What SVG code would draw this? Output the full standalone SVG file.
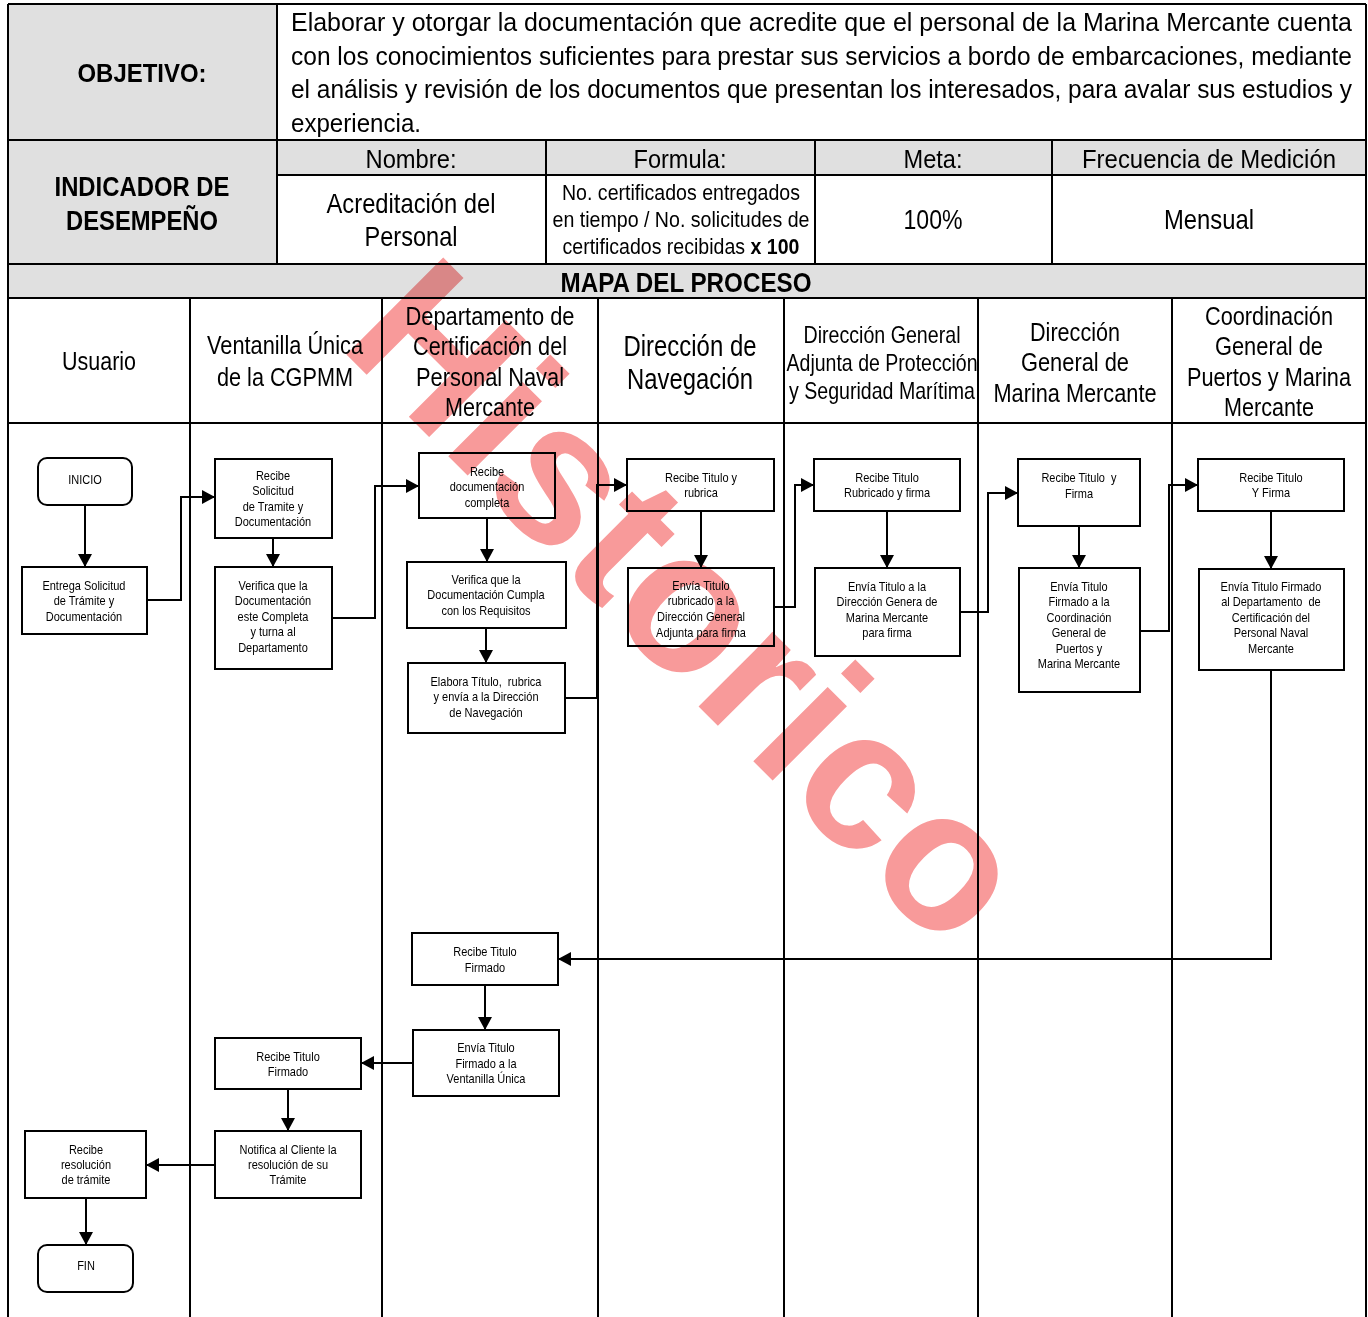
<svg xmlns="http://www.w3.org/2000/svg" width="1368" height="1317" viewBox="0 0 1368 1317">
<style>
text{font-family:'Liberation Sans Narrow','Liberation Sans',Arial,sans-serif;fill:#000}
.c{text-anchor:middle}
.b{font-weight:bold}
.gray{fill:#e0e0e0}
.grid{stroke:#000;stroke-width:2;fill:none}
.node rect{fill:#fff;stroke:#000;stroke-width:2}
.node text{font-size:13.5px;text-anchor:middle}
.conn path{fill:none;stroke:#000;stroke-width:2}
.wm{font-family:'Liberation Sans',Arial,sans-serif;font-weight:bold;font-size:199px;fill:#f89a9a;mix-blend-mode:multiply}
</style>
<defs>
<marker id="ah" markerUnits="userSpaceOnUse" markerWidth="14" markerHeight="14" refX="13" refY="7" orient="auto" viewBox="0 0 14 14">
<path d="M0,0 L13,7 L0,14 z" fill="#000"/>
</marker>
</defs>
<rect x="0" y="0" width="1368" height="1317" fill="#fff"/>
<g id="table">
<rect class="gray" x="8" y="4" width="269" height="260"/>
<rect class="gray" x="277" y="140" width="1089" height="35"/>
<rect class="gray" x="8" y="264" width="1358" height="34"/>
<path class="grid" d="M8,4 H1366 M8,140 H1366 M277,175 H1366 M8,264 H1366 M8,298 H1366 M8,423 H1366 M8,4 V1317 M1366,4 V1317 M277,4 V264 M546,140 V264 M815,140 V264 M1052,140 V264 M190,298 V1317 M382,298 V1317 M598,298 V1317 M784,298 V1317 M978,298 V1317 M1172,298 V1317"/>
<text class="c b" x="142" y="82" font-size="26" textLength="129" lengthAdjust="spacingAndGlyphs">OBJETIVO:</text>
<text x="291" y="31" font-size="26" textLength="1061" lengthAdjust="spacingAndGlyphs">Elaborar y otorgar la documentación que acredite que el personal de la Marina Mercante cuenta</text>
<text x="291" y="65" font-size="26" textLength="1061" lengthAdjust="spacingAndGlyphs">con los conocimientos suficientes para prestar sus servicios a bordo de embarcaciones, mediante</text>
<text x="291" y="98" font-size="26" textLength="1061" lengthAdjust="spacingAndGlyphs">el análisis y revisión de los documentos que presentan los interesados, para avalar sus estudios y</text>
<text x="291" y="132" font-size="26" textLength="130" lengthAdjust="spacingAndGlyphs">experiencia.</text>
<text class="c b" x="142" y="196" font-size="27" textLength="175" lengthAdjust="spacingAndGlyphs">INDICADOR DE</text>
<text class="c b" x="142" y="230" font-size="27" textLength="152" lengthAdjust="spacingAndGlyphs">DESEMPEÑO</text>
<text class="c" x="411" y="168" font-size="26" textLength="91" lengthAdjust="spacingAndGlyphs">Nombre:</text>
<text class="c" x="680" y="168" font-size="26" textLength="93" lengthAdjust="spacingAndGlyphs">Formula:</text>
<text class="c" x="933" y="168" font-size="26" textLength="59" lengthAdjust="spacingAndGlyphs">Meta:</text>
<text class="c" x="1209" y="168" font-size="26" textLength="254" lengthAdjust="spacingAndGlyphs">Frecuencia de Medición</text>
<text class="c" x="411" y="213" font-size="28" textLength="169" lengthAdjust="spacingAndGlyphs">Acreditación del</text>
<text class="c" x="411" y="246" font-size="28" textLength="93" lengthAdjust="spacingAndGlyphs">Personal</text>
<text class="c" x="681" y="200" font-size="22" textLength="238" lengthAdjust="spacingAndGlyphs">No. certificados entregados</text>
<text class="c" x="681" y="227" font-size="22" textLength="257" lengthAdjust="spacingAndGlyphs">en tiempo / No. solicitudes de</text>
<text class="c" x="681" y="254" font-size="22" textLength="237" lengthAdjust="spacingAndGlyphs">certificados recibidas <tspan class="b">x 100</tspan></text>
<text class="c" x="933" y="229" font-size="28" textLength="59" lengthAdjust="spacingAndGlyphs">100%</text>
<text class="c" x="1209" y="229" font-size="28" textLength="90" lengthAdjust="spacingAndGlyphs">Mensual</text>
<text class="c b" x="686" y="292" font-size="28" textLength="251" lengthAdjust="spacingAndGlyphs">MAPA DEL PROCESO</text>
</g>
<g id="lanes">
<text class="c" x="99" y="370" font-size="26" textLength="74" lengthAdjust="spacingAndGlyphs">Usuario</text>
<text class="c" x="285" y="354" font-size="26" textLength="156" lengthAdjust="spacingAndGlyphs">Ventanilla Única</text>
<text class="c" x="285" y="386" font-size="26" textLength="136" lengthAdjust="spacingAndGlyphs">de la CGPMM</text>
<text class="c" x="490" y="325" font-size="26" textLength="169" lengthAdjust="spacingAndGlyphs">Departamento de</text>
<text class="c" x="490" y="355" font-size="26" textLength="154" lengthAdjust="spacingAndGlyphs">Certificación del</text>
<text class="c" x="490" y="386" font-size="26" textLength="148" lengthAdjust="spacingAndGlyphs">Personal Naval</text>
<text class="c" x="490" y="416" font-size="26" textLength="90" lengthAdjust="spacingAndGlyphs">Mercante</text>
<text class="c" x="690" y="356" font-size="29" textLength="133" lengthAdjust="spacingAndGlyphs">Dirección de</text>
<text class="c" x="690" y="389" font-size="29" textLength="126" lengthAdjust="spacingAndGlyphs">Navegación</text>
<text class="c" x="882" y="343" font-size="24" textLength="157" lengthAdjust="spacingAndGlyphs">Dirección General</text>
<text class="c" x="882" y="371" font-size="24" textLength="191" lengthAdjust="spacingAndGlyphs">Adjunta de Protección</text>
<text class="c" x="882" y="399" font-size="24" textLength="186" lengthAdjust="spacingAndGlyphs">y Seguridad Marítima</text>
<text class="c" x="1075" y="341" font-size="26" textLength="90" lengthAdjust="spacingAndGlyphs">Dirección</text>
<text class="c" x="1075" y="371" font-size="26" textLength="108" lengthAdjust="spacingAndGlyphs">General de</text>
<text class="c" x="1075" y="402" font-size="26" textLength="163" lengthAdjust="spacingAndGlyphs">Marina Mercante</text>
<text class="c" x="1269" y="325" font-size="26" textLength="128" lengthAdjust="spacingAndGlyphs">Coordinación</text>
<text class="c" x="1269" y="355" font-size="26" textLength="108" lengthAdjust="spacingAndGlyphs">General de</text>
<text class="c" x="1269" y="386" font-size="26" textLength="164" lengthAdjust="spacingAndGlyphs">Puertos y Marina</text>
<text class="c" x="1269" y="416" font-size="26" textLength="90" lengthAdjust="spacingAndGlyphs">Mercante</text>
</g>
<g id="connectors" class="conn">
<path d="M85,505 V567" marker-end="url(#ah)"/>
<path d="M147,600 H181 V497 H215" marker-end="url(#ah)"/>
<path d="M273,538 V567" marker-end="url(#ah)"/>
<path d="M332,618 H375 V486 H419" marker-end="url(#ah)"/>
<path d="M487,518 V562" marker-end="url(#ah)"/>
<path d="M486,628 V663" marker-end="url(#ah)"/>
<path d="M565,698 H597 V485 H627" marker-end="url(#ah)"/>
<path d="M701,511 V568" marker-end="url(#ah)"/>
<path d="M774,607 H795 V485 H814" marker-end="url(#ah)"/>
<path d="M887,511 V568" marker-end="url(#ah)"/>
<path d="M960,612 H988 V493 H1018" marker-end="url(#ah)"/>
<path d="M1079,526 V568" marker-end="url(#ah)"/>
<path d="M1140,631 H1169 V485 H1198" marker-end="url(#ah)"/>
<path d="M1271,511 V569" marker-end="url(#ah)"/>
<path d="M1271,670 V959 H558" marker-end="url(#ah)"/>
<path d="M485,985 V1030" marker-end="url(#ah)"/>
<path d="M413,1063 H361" marker-end="url(#ah)"/>
<path d="M288,1089 V1131" marker-end="url(#ah)"/>
<path d="M215,1165 H146" marker-end="url(#ah)"/>
<path d="M86,1198 V1245" marker-end="url(#ah)"/>
</g>
<g id="n-inicio" class="node"><rect x="38" y="458" width="94" height="47" rx="9"/><text transform="matrix(.815 0 0 1 15.7 0)" x="85" y="484">INICIO</text></g>
<g id="n-entrega" class="node"><rect x="22" y="567" width="125" height="67"/><text transform="matrix(.815 0 0 1 15.5 0)"><tspan x="84" y="590">Entrega Solicitud</tspan><tspan x="84" y="605.5">de Trámite y</tspan><tspan x="84" y="621">Documentación</tspan></text></g>
<g id="n-vu-recibe" class="node"><rect x="215" y="459" width="117" height="79"/><text transform="matrix(.815 0 0 1 50.5 0)"><tspan x="273" y="480">Recibe</tspan><tspan x="273" y="495.5">Solicitud</tspan><tspan x="273" y="511">de Tramite y</tspan><tspan x="273" y="526.5">Documentación</tspan></text></g>
<g id="n-vu-verifica" class="node"><rect x="215" y="567" width="117" height="102"/><text transform="matrix(.815 0 0 1 50.5 0)"><tspan x="273" y="590">Verifica que la</tspan><tspan x="273" y="605.5">Documentación</tspan><tspan x="273" y="621">este Completa</tspan><tspan x="273" y="636.5">y turna al</tspan><tspan x="273" y="652">Departamento</tspan></text></g>
<g id="n-dc-recibe" class="node"><rect x="419" y="453" width="136" height="65"/><text transform="matrix(.815 0 0 1 90.1 0)"><tspan x="487" y="476">Recibe</tspan><tspan x="487" y="491.5">documentación</tspan><tspan x="487" y="507">completa</tspan></text></g>
<g id="n-dc-verifica" class="node"><rect x="407" y="562" width="159" height="66"/><text transform="matrix(.815 0 0 1 89.9 0)"><tspan x="486" y="584">Verifica que la</tspan><tspan x="486" y="599.5">Documentación Cumpla</tspan><tspan x="486" y="615">con los Requisitos</tspan></text></g>
<g id="n-dc-elabora" class="node"><rect x="408" y="663" width="157" height="70"/><text transform="matrix(.815 0 0 1 89.9 0)" xml:space="preserve"><tspan x="486" y="686">Elabora Título,  rubrica</tspan><tspan x="486" y="701.5">y envía a la Dirección</tspan><tspan x="486" y="717">de Navegación</tspan></text></g>
<g id="n-dn-recibe" class="node"><rect x="627" y="459" width="147" height="52"/><text transform="matrix(.815 0 0 1 129.7 0)"><tspan x="701" y="482">Recibe Titulo y</tspan><tspan x="701" y="497">rubrica</tspan></text></g>
<g id="n-dn-envia" class="node"><rect x="628" y="568" width="146" height="78"/><text transform="matrix(.815 0 0 1 129.7 0)"><tspan x="701" y="590">Envía Titulo</tspan><tspan x="701" y="605.5">rubricado a la</tspan><tspan x="701" y="621">Dirección General</tspan><tspan x="701" y="637">Adjunta para firma</tspan></text></g>
<g id="n-dga-recibe" class="node"><rect x="814" y="459" width="146" height="52"/><text transform="matrix(.815 0 0 1 164.1 0)"><tspan x="887" y="482">Recibe Titulo</tspan><tspan x="887" y="497">Rubricado y firma</tspan></text></g>
<g id="n-dga-envia" class="node"><rect x="815" y="568" width="145" height="88"/><text transform="matrix(.815 0 0 1 164.1 0)"><tspan x="887" y="591">Envía Titulo a la</tspan><tspan x="887" y="606.5">Dirección Genera de</tspan><tspan x="887" y="622">Marina Mercante</tspan><tspan x="887" y="637.5">para firma</tspan></text></g>
<g id="n-dgmm-recibe" class="node"><rect x="1018" y="459" width="122" height="67"/><text transform="matrix(.815 0 0 1 199.6 0)" xml:space="preserve"><tspan x="1079" y="482">Recibe Titulo  y</tspan><tspan x="1079" y="498">Firma</tspan></text></g>
<g id="n-dgmm-envia" class="node"><rect x="1019" y="568" width="121" height="124"/><text transform="matrix(.815 0 0 1 199.6 0)"><tspan x="1079" y="591">Envía Titulo</tspan><tspan x="1079" y="606.5">Firmado a la</tspan><tspan x="1079" y="622">Coordinación</tspan><tspan x="1079" y="637.5">General de</tspan><tspan x="1079" y="653">Puertos y</tspan><tspan x="1079" y="668.5">Marina Mercante</tspan></text></g>
<g id="n-cg-recibe" class="node"><rect x="1198" y="459" width="146" height="52"/><text transform="matrix(.815 0 0 1 235.1 0)"><tspan x="1271" y="482">Recibe Titulo</tspan><tspan x="1271" y="497">Y Firma</tspan></text></g>
<g id="n-cg-envia" class="node"><rect x="1199" y="569" width="145" height="101"/><text transform="matrix(.815 0 0 1 235.1 0)" xml:space="preserve"><tspan x="1271" y="591">Envía Titulo Firmado</tspan><tspan x="1271" y="606.5">al Departamento  de</tspan><tspan x="1271" y="622">Certificación del</tspan><tspan x="1271" y="637.5">Personal Naval</tspan><tspan x="1271" y="653">Mercante</tspan></text></g>
<g id="n-dc-recibe-firmado" class="node"><rect x="412" y="933" width="146" height="52"/><text transform="matrix(.815 0 0 1 89.7 0)"><tspan x="485" y="956">Recibe Titulo</tspan><tspan x="485" y="972">Firmado</tspan></text></g>
<g id="n-dc-envia-vu" class="node"><rect x="413" y="1030" width="146" height="66"/><text transform="matrix(.815 0 0 1 89.9 0)"><tspan x="486" y="1052">Envía Titulo</tspan><tspan x="486" y="1068">Firmado a la</tspan><tspan x="486" y="1083">Ventanilla Única</tspan></text></g>
<g id="n-vu-recibe-firmado" class="node"><rect x="215" y="1038" width="146" height="51"/><text transform="matrix(.815 0 0 1 53.3 0)"><tspan x="288" y="1061">Recibe Titulo</tspan><tspan x="288" y="1076">Firmado</tspan></text></g>
<g id="n-vu-notifica" class="node"><rect x="215" y="1131" width="146" height="67"/><text transform="matrix(.815 0 0 1 53.3 0)"><tspan x="288" y="1154">Notifica al Cliente la</tspan><tspan x="288" y="1169">resolución de su</tspan><tspan x="288" y="1184">Trámite</tspan></text></g>
<g id="n-us-recibe" class="node"><rect x="25" y="1131" width="121" height="67"/><text transform="matrix(.815 0 0 1 15.9 0)"><tspan x="86" y="1154">Recibe</tspan><tspan x="86" y="1169">resolución</tspan><tspan x="86" y="1184">de trámite</tspan></text></g>
<g id="n-fin" class="node"><rect x="38" y="1245" width="95" height="47" rx="9"/><text transform="matrix(.815 0 0 1 15.9 0)" x="86" y="1270">FIN</text></g>
<text class="wm" transform="translate(337,345) rotate(45)" x="0" y="0">Historico</text>
</svg>
